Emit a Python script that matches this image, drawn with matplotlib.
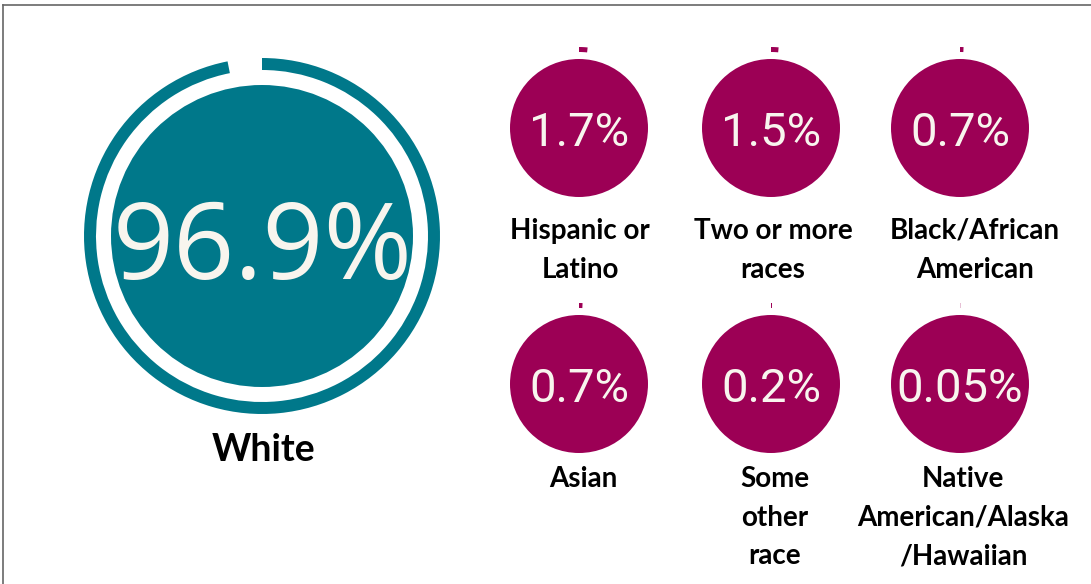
import matplotlib
matplotlib.use("Agg")
import matplotlib.pyplot as plt
from matplotlib.patches import Circle, Wedge
from matplotlib.lines import Line2D

W, H = 1091, 584

# headline group
main_label = "White"
main_pct = 96.9

# the other groups, read left-to-right, top-to-bottom
labels = [
    "Hispanic or\nLatino",
    "Two or more\nraces",
    "Black/African\nAmerican",
    "Asian",
    "Some\nother\nrace",
    "Native\nAmerican/Alaska\n/Hawaiian",
]
pcts = [1.7, 1.5, 0.7, 0.7, 0.2, 0.05]

TEAL = "#00788a"
PLUM = "#9c0055"
TXT = "#f8f5ee"


def ring(ax, cx, cy, r_disk, r_ring, thick, pct, color):
    # filled disk plus a progress arc that starts at 12 o'clock and runs clockwise
    y = H - cy
    ax.add_patch(Circle((cx, y), r_disk, color=color, lw=0))
    if pct > 0:
        ax.add_patch(Wedge((cx, y), r_ring, 90 - 3.6 * pct, 90,
                           width=thick, color=color, lw=0))


fig = plt.figure(figsize=(W / 100, H / 100), dpi=100)
ax = fig.add_axes([0, 0, 1, 1])
ax.set_xlim(0, W)
ax.set_ylim(0, H)
ax.set_aspect("equal")
ax.axis("off")

# frame on top and left only
fig.add_artist(Line2D([3 / W, 1], [1 - 5 / H, 1 - 5 / H], color="#666666", lw=1.2))
fig.add_artist(Line2D([3 / W, 3 / W], [0, 1 - 5 / H], color="#666666", lw=1.2))

# big circle
ring(ax, 262, 236, 151, 178, 12, main_pct, TEAL)
ax.text(263, H - 238, f"{main_pct:g}%", color=TXT, fontsize=77,
        family="Open Sans", ha="center", va="center_baseline")
ax.text(264, H - 447, main_label, fontsize=27, fontweight="bold",
        family="Lato", ha="center", va="center_baseline")

cols = [579, 771, 960]
rows = [128, 384]
label_top = [218, 466]
label_x = [580, 773, 975, 583, 775, 963]

for i, (lab, p) in enumerate(zip(labels, pcts)):
    r, c = divmod(i, 3)
    cx, cy = cols[c], rows[r]
    ring(ax, cx, cy, 69, 81, 5, p, PLUM)
    ax.text(cx, H - cy - 1, f"{p:g}%", color=TXT, fontsize=34,
            family="Roboto", ha="center", va="center_baseline")
    ax.text(label_x[i], H - label_top[r], lab, fontsize=20, fontweight="bold",
            family="Lato", ha="center", va="top", linespacing=1.6)

fig.savefig("out.png", dpi=100)
